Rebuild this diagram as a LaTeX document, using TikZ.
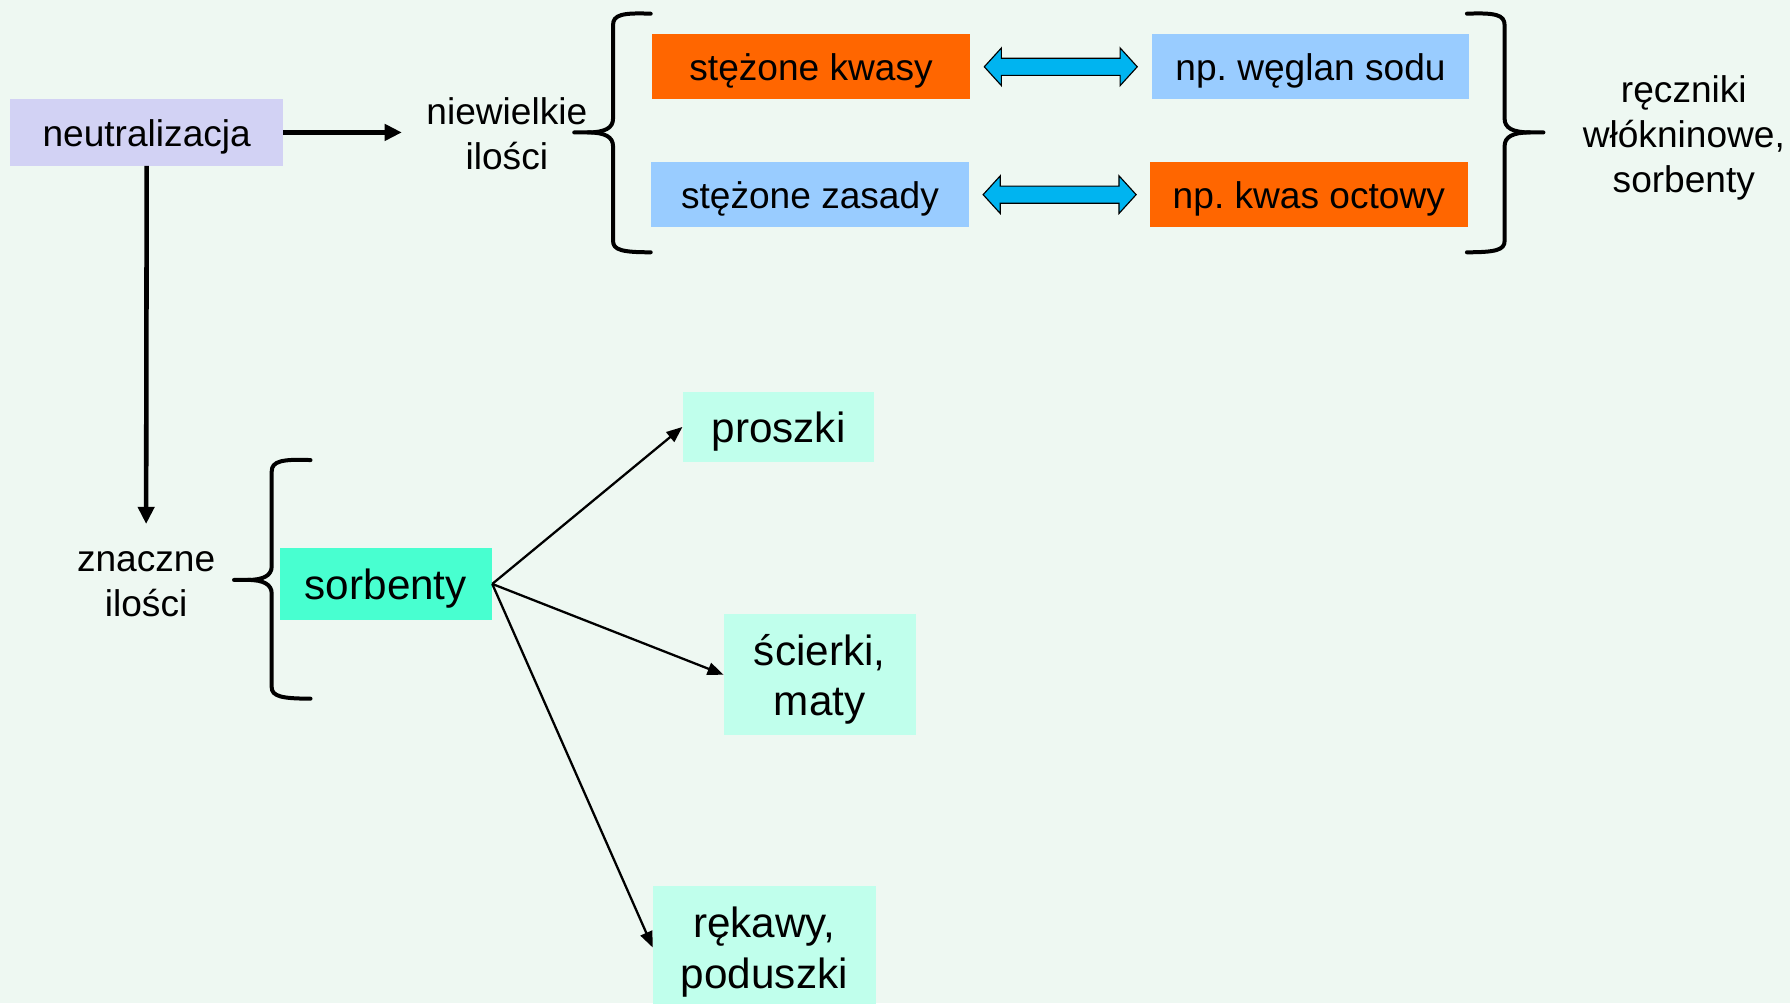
\documentclass[tikz,border=0pt]{standalone}
\usepackage{fontspec}
\setmainfont{Liberation Sans}
\usetikzlibrary{arrows.meta,calc}
\frenchspacing
\definecolor{bgc}{RGB}{238,248,242}
\definecolor{lav}{RGB}{210,210,244}
\definecolor{orng}{RGB}{255,102,0}
\definecolor{lblue}{RGB}{153,204,255}
\definecolor{aqua}{RGB}{72,255,208}
\definecolor{pale}{RGB}{192,255,236}
\definecolor{skyb}{RGB}{0,180,240}
\newcommand\fsa{\fontsize{32.5}{38.5}\selectfont}
\newcommand\fsb{\fontsize{37}{44}\selectfont}
\newcommand\dn[1]{\raisebox{-4pt}[\height][\depth]{#1}}
\tikzset{
  boxa/.style={inner sep=0pt, align=center, font=\fsa},
  boxb/.style={inner sep=0pt, align=center, font=\fsb},
  lbl/.style={inner sep=0pt, align=center, font=\fontsize{32.5}{39.5}\selectfont},
  thickarr/.style={line width=4pt, -{Triangle[length=15pt,width=14pt]}},
  thinarr/.style={line width=2pt, -{Triangle[length=14pt,width=11pt]}},
  brace/.style={line width=3.5pt, line cap=round},
  dblarr/.style={fill=skyb, draw=black, line width=1pt, line join=miter}
}
\begin{document}
\begin{tikzpicture}[x=1pt,y=-1pt]
\fill[bgc] (0,0) rectangle (1568,879);
\useasboundingbox (0,0) rectangle (1568,879);

% top part
\node[boxa, fill=lav, minimum width=239pt, minimum height=58pt] (neu) at (128.5,116) {\dn{neutralizacja}};
\node[lbl] (niew) at (444,117) {niewielkie\\ilości};
\node[boxa, fill=orng, minimum width=279pt, minimum height=57pt] (sk) at (710.5,58.5) {\dn{stężone kwasy}};
\node[boxa, fill=lblue, minimum width=278pt, minimum height=57pt] (wg) at (1148,58.5) {\dn{np.\ węglan sodu}};
\node[boxa, fill=lblue, minimum width=279pt, minimum height=57pt] (sz) at (709.5,170.5) {\dn{stężone zasady}};
\node[boxa, fill=orng, minimum width=279pt, minimum height=57pt] (ko) at (1146.5,170.5) {\dn{np.\ kwas octowy}};
\node[lbl] (rec) at (1475,121) {ręczniki\\włókninowe,\\sorbenty};

\coordinate (nw) at (352,116);
\draw[thickarr] (neu.east) -- (nw);

% double arrows
\draw[dblarr] ($(sk.east)+(12,0)$) -- ++(15,-16.5) -- ++(0,9) -- ++(104,0) -- ++(0,-9) -- ++(15,16.5) -- ++(-15,16.5) -- ++(0,-9) -- ++(-104,0) -- ++(0,9) -- cycle;
\draw[dblarr] ($(sz.east)+(12,0)$) -- ++(15,-16.5) -- ++(0,9) -- ++(104,0) -- ++(0,-9) -- ++(15,16.5) -- ++(-15,16.5) -- ++(0,-9) -- ++(-104,0) -- ++(0,9) -- cycle;

% left brace (top)
\draw[brace] (570,12) .. controls (545,11) and (537,13) .. (537,22) -- (537,104) .. controls (537,112) and (530,116) .. (515,116) -- (503,116);
\draw[brace] (515,116) .. controls (530,116) and (537,120) .. (537,128) -- (537,211) .. controls (537,219) and (545,221) .. (570,221);
% right brace
\draw[brace] (1285,12) .. controls (1310,11) and (1318,13) .. (1318,22) -- (1318,104) .. controls (1318,112) and (1325,116) .. (1340,116) -- (1352,116);
\draw[brace] (1340,116) .. controls (1325,116) and (1318,120) .. (1318,128) -- (1318,211) .. controls (1318,219) and (1310,221) .. (1285,221);

% lower part
\coordinate (vz) at (128,459);
\draw[thickarr] (neu.south) -- (vz);
\node[lbl] (zn) at (128,512) {znaczne\\ilości};
\draw[brace] (272,403) .. controls (247,402) and (238,404) .. (238,413) -- (238,496) .. controls (238,504) and (231,508) .. (217,508) -- (205,508);
\draw[brace] (217,508) .. controls (231,508) and (238,512) .. (238,520) -- (238,602) .. controls (238,610) and (247,612) .. (272,612);

\node[boxb, fill=aqua, minimum width=186pt, minimum height=63pt] (sorb) at (338,511.5) {\dn{sorbenty}};
\node[boxb, fill=pale, minimum width=168pt, minimum height=62pt] (pro) at (682,374) {\dn{proszki}};
\node[boxb, fill=pale, minimum width=168pt, minimum height=106pt] (sci) at (718,591) {\dn{ścierki,}\\\dn{maty}};
\node[boxb, fill=pale, minimum width=195pt, minimum height=108pt] (rek) at (669.5,830) {\dn{rękawy,}\\\dn{poduszki}};

\draw[thinarr] (sorb.east) -- (pro.west);
\draw[thinarr] (sorb.east) -- (sci.west);
\draw[thinarr] (sorb.east) -- (rek.west);
\end{tikzpicture}
\end{document}
